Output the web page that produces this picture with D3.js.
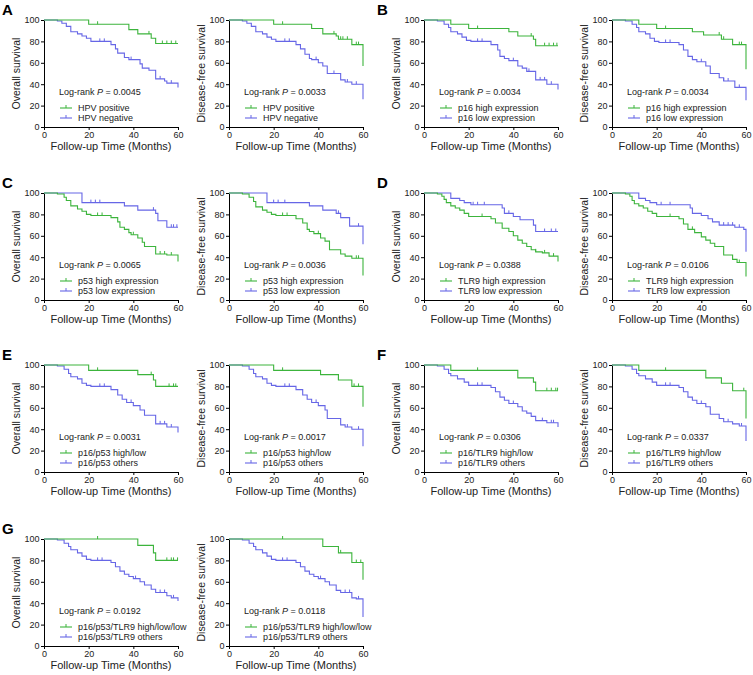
<!DOCTYPE html>
<html>
<head>
<meta charset="utf-8">
<script src="https://cdn.jsdelivr.net/npm/d3@7"></script>
<style>
  body { margin: 0; background: #fff; }
  text { font-family: "Liberation Sans", Arial, sans-serif; }
</style>
</head>
<body>
<svg id="fig" width="753" height="675"></svg>
<script>
// step data: [time, survival after drop], censor times
var A_os_g = [[20,96],[38,91],[42,87],[48,83],[50,78]];
var A_os_g_c = [24,47,53,55,57,59];
var A_os_b = [[6,99],[8,97],[10,94],[12,89],[15,87],[17,85],[19,83],[21,80],[30,77],[32,73],[33,69],[36,65],[38,63],[43,59],[44,55],[47,53],[50,45],[54,43],[55,41],[60,37]];
var A_os_b_c = [25,27,39,52,57];
var A_dfs_g = [[20,96],[37,92],[42,87],[48,85],[49,82],[55,77],[60,57]];
var A_dfs_g_c = [24,47,50,51,53,57,58];
var A_dfs_b = [[6,99],[8,97],[10,94],[12,89],[15,87],[17,84],[19,82],[21,80],[30,77],[32,73],[34,68],[36,64],[37,63],[40,60],[42,57],[44,50],[50,44],[52,42],[55,40],[60,26]];
var A_dfs_b_c = [25,27,39,47,53,57];

var B_os_g = [[12,96],[20,92],[38,89],[42,85],[49,82],[50,76]];
var B_os_g_c = [24,48,54,56,58,59.5];
var B_os_b = [[6,99],[9,96],[11,93],[12,89],[15,87],[17,84],[19,81],[21,80],[30,77],[33,72],[34,66],[36,64],[38,62],[42,57],[44,55],[46,52],[50,44],[55,40],[60,35]];
var B_os_b_c = [24,26,40,47,52,54,57];
var B_dfs_g = [[12,96],[20,92],[36,89],[41,86],[49,82],[54,77],[60,54]];
var B_dfs_g_c = [24,48,50,57,58];
var B_dfs_b = [[6,99],[9,96],[11,93],[12,89],[15,87],[17,83],[19,80],[21,79],[30,77],[32,72],[34,66],[36,63],[38,61],[42,57],[44,50],[48,46],[50,43],[55,37],[60,25]];
var B_dfs_b_c = [24,26,40,50,52,57];

var C_os_g = [[6,99],[9,96],[10,93],[12,88],[15,85],[17,83],[19,80],[21,79],[30,77],[33,73],[34,68],[36,66],[38,63],[39,61],[42,58],[44,54],[45,50],[50,43],[55,42],[60,36]];
var C_os_g_c = [24,26,40,52,54,57];
var C_os_b = [[17,91],[36,88],[42,84],[50,81],[51,74],[55,68]];
var C_os_b_c = [21,23,25,49,57,58,59.5];
var C_dfs_g = [[6,99],[9,96],[11,92],[12,87],[15,84],[17,82],[19,80],[21,79],[30,76],[33,72],[35,66],[36,64],[38,62],[41,58],[43,55],[45,47],[50,43],[52,41],[55,39],[60,23]];
var C_dfs_g_c = [24,26,40,57,58];
var C_dfs_b = [[17,91],[36,88],[42,84],[48,81],[50,77],[54,69],[60,52]];
var C_dfs_b_c = [20,22,25,49,58];

var D_os_g = [[6,99],[8,97],[9,94],[10,91],[12,88],[14,86],[16,84],[18,81],[20,78],[30,76],[32,72],[35,67],[38,64],[40,60],[42,56],[44,53],[46,50],[48,47],[50,45],[53,44],[56,41],[60,36]];
var D_os_g_c = [26,50,54,58];
var D_os_b = [[12,95],[16,93],[18,91],[21,89],[35,86],[36,81],[40,78],[43,75],[49,70],[50,64]];
var D_os_b_c = [22,24,27,38,54,57,59];
var D_dfs_g = [[6,99],[8,97],[9,93],[10,90],[12,88],[14,86],[16,83],[18,81],[20,78],[30,76],[32,71],[34,66],[37,63],[40,59],[42,56],[44,53],[46,50],[50,42],[54,38],[56,35],[60,22]];
var D_dfs_g_c = [26,36,57];
var D_dfs_b = [[12,95],[15,93],[17,91],[20,89],[35,86],[36,81],[40,79],[43,76],[45,73],[48,70],[55,68],[59,66],[60,45]];
var D_dfs_b_c = [22,26,50,52,54,57];

var E_os_g = [[20,95],[42,91],[49,86],[50,80]];
var E_os_g_c = [24,48,56,58,59];
var E_os_b = [[6,99],[9,96],[11,92],[12,89],[15,87],[17,83],[19,81],[21,80],[30,77],[33,72],[35,68],[37,65],[40,62],[43,58],[45,53],[50,45],[55,42],[60,37]];
var E_os_b_c = [25,27,39,52,54,57];
var E_dfs_g = [[20,95],[41,91],[49,86],[55,80],[60,61]];
var E_dfs_g_c = [24,49,56,58];
var E_dfs_b = [[6,99],[9,96],[11,92],[12,89],[15,87],[17,83],[19,81],[21,80],[30,77],[33,72],[35,68],[37,65],[40,62],[43,58],[44,50],[50,44],[52,42],[55,40],[60,24]];
var E_dfs_b_c = [25,27,39,53,58];

var F_os_g = [[12,95],[42,88],[49,84],[50,76]];
var F_os_g_c = [24,55,57,59,59.8];
var F_os_b = [[6,99],[9,96],[11,92],[12,90],[15,87],[18,84],[20,81],[30,79],[32,75],[34,70],[36,67],[38,64],[42,61],[44,57],[46,55],[48,52],[50,48],[55,46],[60,42]];
var F_os_b_c = [24,26,40,53,57,58];
var F_dfs_g = [[12,95],[42,88],[49,83],[54,76],[60,50]];
var F_dfs_g_c = [24,49,59];
var F_dfs_b = [[6,99],[9,96],[11,92],[12,90],[15,87],[18,84],[20,81],[30,79],[32,75],[34,70],[36,67],[38,64],[42,61],[44,54],[48,50],[50,47],[54,45],[57,43],[60,29]];
var F_dfs_b_c = [24,26,40,52,58];

var G_os_g = [[42,94],[49,87],[50,80]];
var G_os_g_c = [24,55,57,58,59.8];
var G_os_b = [[6,99],[9,96],[11,93],[12,90],[15,87],[17,84],[19,81],[21,80],[30,78],[32,74],[34,70],[36,67],[38,65],[40,63],[43,60],[45,57],[48,53],[50,50],[55,47],[57,45],[60,42]];
var G_os_b_c = [24,26,41,52,54,58];
var G_dfs_g = [[42,93],[49,87],[55,78],[60,62]];
var G_dfs_g_c = [24,50,57,59];
var G_dfs_b = [[6,99],[9,96],[11,93],[12,90],[15,87],[17,84],[19,81],[21,80],[30,78],[32,74],[34,70],[36,67],[38,65],[40,63],[43,60],[45,57],[48,52],[50,50],[55,45],[57,44],[60,27]];
var G_dfs_b_c = [24,26,41,52,54,58];

var letters = ["A","B","C","D","E","F","G"];
var pOS  = ["0.0045","0.0034","0.0065","0.0388","0.0031","0.0306","0.0192"];
var pDFS = ["0.0033","0.0034","0.0036","0.0106","0.0017","0.0337","0.0118"];
var greenLabels = ["HPV positive","p16 high expression","p53 high expression","TLR9 high expression","p16/p53 high/low","p16/TLR9 high/low","p16/p53/TLR9 high/low/low"];
var blueLabels  = ["HPV negative","p16 low expression","p53 low expression","TLR9 low expression","p16/p53 others","p16/TLR9 others","p16/p53/TLR9 others"];
var xTicks = [0,20,40,60];
var yTicks = [0,20,40,60,80,100];

var curves = {
  A:[A_os_g,A_os_g_c,A_os_b,A_os_b_c,A_dfs_g,A_dfs_g_c,A_dfs_b,A_dfs_b_c],
  B:[B_os_g,B_os_g_c,B_os_b,B_os_b_c,B_dfs_g,B_dfs_g_c,B_dfs_b,B_dfs_b_c],
  C:[C_os_g,C_os_g_c,C_os_b,C_os_b_c,C_dfs_g,C_dfs_g_c,C_dfs_b,C_dfs_b_c],
  D:[D_os_g,D_os_g_c,D_os_b,D_os_b_c,D_dfs_g,D_dfs_g_c,D_dfs_b,D_dfs_b_c],
  E:[E_os_g,E_os_g_c,E_os_b,E_os_b_c,E_dfs_g,E_dfs_g_c,E_dfs_b,E_dfs_b_c],
  F:[F_os_g,F_os_g_c,F_os_b,F_os_b_c,F_dfs_g,F_dfs_g_c,F_dfs_b,F_dfs_b_c],
  G:[G_os_g,G_os_g_c,G_os_b,G_os_b_c,G_dfs_g,G_dfs_g_c,G_dfs_b,G_dfs_b_c]
};

var green = "#3cb43c", blue = "#6666e6";
var colX0 = [44,229,424,612];
var rowTop = [20,193,365,539];
var plotW = 134, plotH = 107;

var svg = d3.select("#fig");

function survAt(steps, t) {
    var s = 100;
    for (var i = 0; i < steps.length; i++) {
        if (steps[i][0] <= t) s = steps[i][1];
    }
    return s;
}

function drawPanel(x0, top, steps1, cens1, steps2, cens2, yTitle, p, lab1, lab2) {
    var g = svg.append("g").attr("transform", "translate(" + x0 + "," + top + ")");
    var x = d3.scaleLinear().domain([0,60]).range([0,plotW]);
    var y = d3.scaleLinear().domain([0,100]).range([plotH,0]);

    var xa = g.append("g").attr("transform", "translate(0," + plotH + ")")
        .call(d3.axisBottom(x).tickValues(xTicks).tickSize(3).tickPadding(2).tickSizeOuter(0));
    var ya = g.append("g")
        .call(d3.axisLeft(y).tickValues(yTicks).tickSize(3).tickPadding(1.5).tickSizeOuter(0));
    [xa, ya].forEach(function(a) {
        a.selectAll("text").attr("font-size", 9).attr("font-family", "Liberation Sans, Arial, sans-serif").attr("fill","#222");
        a.selectAll("line").attr("stroke", "#000");
        a.select(".domain").attr("stroke", "#000");
    });

    g.append("text").attr("x", plotW/2).attr("y", plotH + 23)
        .attr("text-anchor", "middle").attr("font-size", 11).attr("fill","#222")
        .text("Follow-up Time (Months)");
    g.append("text")
        .attr("transform", "translate(-28," + (plotH/2) + ") rotate(-90)")
        .attr("dy", "0.35em")
        .attr("text-anchor", "middle").attr("font-size", 10.5).attr("fill","#222")
        .text(yTitle);

    var line = d3.line().x(function(d){return x(d[0]);}).y(function(d){return y(d[1]);}).curve(d3.curveStepAfter);

    [[steps2,cens2,blue],[steps1,cens1,green]].forEach(function(c) {
        var pts = [[0,100]].concat(c[0]);
        var last = pts[pts.length-1];
        if (last[0] < 60) pts.push([60,last[1]]);
        g.append("path").datum(pts).attr("d", line)
            .attr("fill","none").attr("stroke",c[2]).attr("stroke-width",1.1);
        g.selectAll(null).data(c[1]).enter().append("line")
            .attr("x1", function(t){return x(t);}).attr("x2", function(t){return x(t);})
            .attr("y1", function(t){return y(survAt(c[0],t)) - 3;})
            .attr("y2", function(t){return y(survAt(c[0],t));})
            .attr("stroke", c[2]).attr("stroke-width", 1);
    });

    // legend
    var lt = g.append("text").attr("x", 15).attr("y", plotH - 32)
        .attr("font-size", 9).attr("fill","#222");
    lt.append("tspan").text("Log-rank ");
    lt.append("tspan").attr("font-style","italic").text("P");
    lt.append("tspan").text(" = " + p);
    [[lab1,green,plotH-19],[lab2,blue,plotH-9]].forEach(function(l) {
        g.append("line").attr("x1",16).attr("x2",28).attr("y1",l[2]).attr("y2",l[2])
            .attr("stroke",l[1]).attr("stroke-width",1.1);
        g.append("line").attr("x1",22).attr("x2",22).attr("y1",l[2]-3).attr("y2",l[2])
            .attr("stroke",l[1]).attr("stroke-width",1);
        g.append("text").attr("x",34).attr("y",l[2]+3).attr("font-size",9).attr("fill","#222").text(l[0]);
    });
}

letters.forEach(function(L, i) {
    var row = Math.floor(i/2), half = i % 2;
    var c = curves[L];
    var top = rowTop[row];
    var xa = colX0[half*2], xb = colX0[half*2+1];
    svg.append("text").attr("x", half ? 377 : 2).attr("y", top - 5)
        .attr("font-size", 15).attr("font-weight","bold").attr("fill","#000").text(L);
    drawPanel(xa, top, c[0], c[1], c[2], c[3], "Overall survival", pOS[i], greenLabels[i], blueLabels[i]);
    drawPanel(xb, top, c[4], c[5], c[6], c[7], "Disease-free survival", pDFS[i], greenLabels[i], blueLabels[i]);
});
</script>
</body>
</html>
